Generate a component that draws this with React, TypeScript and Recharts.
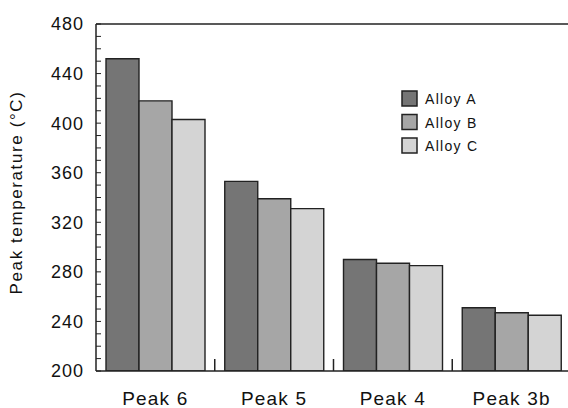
import React from "react";
import { BarChart, Bar, XAxis, YAxis, ReferenceLine, Legend } from "recharts";

const categories = ["Peak 6", "Peak 5", "Peak 4", "Peak 3b"];
const alloyA = [452, 353, 290, 251];
const alloyB = [418, 339, 287, 247];
const alloyC = [403, 331, 285, 245];
const seriesNames = ["Alloy A", "Alloy B", "Alloy C"];
const yTicks = [200, 210, 220, 230, 240, 250, 260, 270, 280, 290, 300, 310, 320, 330, 340, 350, 360, 370, 380, 390, 400, 410, 420, 430, 440, 450, 460, 470, 480];
const yLabelTicks = [200, 240, 280, 320, 360, 400, 440, 480];

const data = categories.map((c, i) => ({
  name: c,
  a: alloyA[i],
  b: alloyB[i],
  c: alloyC[i],
}));

const FONT = "'Liberation Sans', Arial, Helvetica, sans-serif";
const INK = "#222";
const colors = ["#757575", "#a6a6a6", "#d4d4d4"];

const YTick = (props: any) => {
  const { x, y, payload } = props;
  if (!yLabelTicks.includes(payload.value)) return null;
  return (
    <text x={x} y={y} dy="0.36em" textAnchor="end" fontFamily={FONT} fontSize={18} letterSpacing={1} fill="#111">
      {payload.value}
    </text>
  );
};

const XTick = (props: any) => {
  const { x, y, payload, index, visibleTicksCount, width } = props;
  const half = payload && typeof payload.offset === "number" && payload.offset > 0 ? payload.offset : width / (2 * visibleTicksCount);
  return (
    <g>
      <text x={x} y={y + 34} textAnchor="middle" fontFamily={FONT} fontSize={19} letterSpacing={1.2} fill="#111">
        {payload.value}
      </text>
      {index < visibleTicksCount - 1 && (
        <line x1={x + half} x2={x + half} y1={y} y2={y - 12} stroke={INK} strokeWidth={1.5} />
      )}
    </g>
  );
};

const LegendContent = (props: any) => {
  const { payload } = props;
  return (
    <svg width={100} height={75}>
      {(payload || []).map((p: any, i: number) => (
        <g key={i} transform={`translate(0, ${i * 23.5})`}>
          <rect x={1} y={1} width={15} height={15} fill={p.color} stroke={INK} strokeWidth={1.5} />
          <text x={24} y={14} fontFamily={FONT} fontSize={14} letterSpacing={1.3} fill="#111">
            {p.value}
          </text>
        </g>
      ))}
    </svg>
  );
};

export default function App() {
  return (
    <div style={{ position: "absolute", left: 0, top: 0, width: 568, height: 408, background: "#fff" }}>
      <BarChart
        width={568}
        height={408}
        data={data}
        margin={{ top: 24, right: -3, bottom: 0, left: 0 }}
        barCategoryGap={10}
        barGap={0}
      >
        <XAxis
          dataKey="name"
          height={37}
          tickSize={0}
          tickMargin={0}
          tickLine={false}
          axisLine={{ stroke: INK, strokeWidth: 1.5 }}
          tick={<XTick />}
          interval={0}
        />
        <YAxis
          width={96}
          domain={[200, 480]}
          ticks={yTicks}
          interval={0}
          allowDataOverflow
          tickSize={-5}
          tickMargin={17}
          tickLine={{ stroke: INK, strokeWidth: 1 }}
          axisLine={{ stroke: INK, strokeWidth: 1.5 }}
          tick={<YTick />}
          label={{
            value: "Peak temperature (°C)",
            angle: -90,
            position: "insideLeft",
            offset: 0,
            style: { fontFamily: FONT, fontSize: 17, letterSpacing: 1.6, fill: "#111", textAnchor: "middle" },
            dx: 16,
            dy: -5,
          }}
        />
        <ReferenceLine y={480} stroke={INK} strokeWidth={1.5} />
        <Legend
          layout="vertical"
          align="center"
          verticalAlign="middle"
          content={<LegendContent />}
          wrapperStyle={{ position: "absolute", left: 401, top: 90, width: 100, height: 75 }}
        />
        <Bar dataKey="a" name={seriesNames[0]} fill={colors[0]} stroke={INK} strokeWidth={1.4} isAnimationActive={false} />
        <Bar dataKey="b" name={seriesNames[1]} fill={colors[1]} stroke={INK} strokeWidth={1.4} isAnimationActive={false} />
        <Bar dataKey="c" name={seriesNames[2]} fill={colors[2]} stroke={INK} strokeWidth={1.4} isAnimationActive={false} />
      </BarChart>
    </div>
  );
}
